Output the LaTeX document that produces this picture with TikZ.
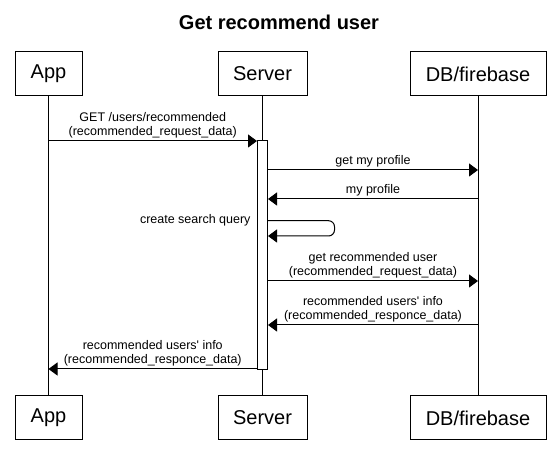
\documentclass[tikz,border=0pt]{standalone}
\usepackage{fontspec}
\setmainfont{Liberation Sans}
\usetikzlibrary{arrows.meta}
\begin{document}
\begin{tikzpicture}[x=1pt, y=-1pt, line width=1pt, >={Triangle[length=9pt,width=13pt]}]
        \tikzstyle{blk} = [draw, black]
        \tikzstyle{actor} = [draw, black, minimum height=44pt, inner sep=0pt, font=\fontsize{20}{24}\selectfont]
        \tikzstyle{lbl} = [font=\fontsize{12.5}{14}\selectfont, align=center, inner sep=2pt]
        
        \useasboundingbox (0,0) rectangle (558,465);
        \node[font=\bfseries\fontsize{20}{24}\selectfont] (title) at (279, 22) {Get recommend user};
        
        \node[actor, minimum width=67pt] (app) at (48.5, 74) {App};
        \node[actor, minimum width=89pt] (server) at (262.5, 74) {Server};
        \node[actor, minimum width=136pt] (db) at (478, 74) {DB/firebase};
        \node[actor, minimum width=67pt] (appB) at (48.5, 418) {App};
        \node[actor, minimum width=89pt] (serverB) at (262.5, 418) {Server};
        \node[actor, minimum width=136pt] (dbB) at (478, 418) {DB/firebase};
        
        \path[blk] (app) to (appB);
        \path[blk] (server) to (serverB);
        \path[blk] (db) to (dbB);
        
        \node[blk, fill=white, minimum width=10pt, minimum height=229pt, inner sep=0pt] (act) at (262.5, 255.5) {};
        
        \coordinate (m1) at (0, 141);
        \coordinate (m2) at (0, 170);
        \coordinate (m3) at (0, 199);
        \coordinate (q1) at (0, 220.7);
        \coordinate (q2) at (0, 236);
        \coordinate (m5) at (0, 281);
        \coordinate (m6) at (0, 325);
        \coordinate (m7) at (0, 369);
        
        \path[blk, ->] (app |- m1) to node[lbl, above] {GET /users/recommended\\(recommended\_request\_data)} (act.west |- m1);
        \path[blk, ->] (act.east |- m2) to node[lbl, above] {get my profile} (db |- m2);
        \path[blk, ->] (db |- m3) to node[lbl, above] {my profile} (act.east |- m3);
        \path[blk, ->, rounded corners=6pt] (act.east |- q1) -- ++(66.5, 0) |- (act.east |- q2);
        \node[lbl, anchor=east, xshift=-4pt] (query) at (act.west |- q1) {create search query};
        \path[blk, ->] (act.east |- m5) to node[lbl, above] {get recommended user\\(recommended\_request\_data)} (db |- m5);
        \path[blk, ->] (db |- m6) to node[lbl, above] {recommended users\textquotesingle{} info\\(recommended\_responce\_data)} (act.east |- m6);
        \path[blk, ->] (act.west |- m7) to node[lbl, above] {recommended users\textquotesingle{} info\\(recommended\_responce\_data)} (app |- m7);
    \end{tikzpicture}
\end{document}
